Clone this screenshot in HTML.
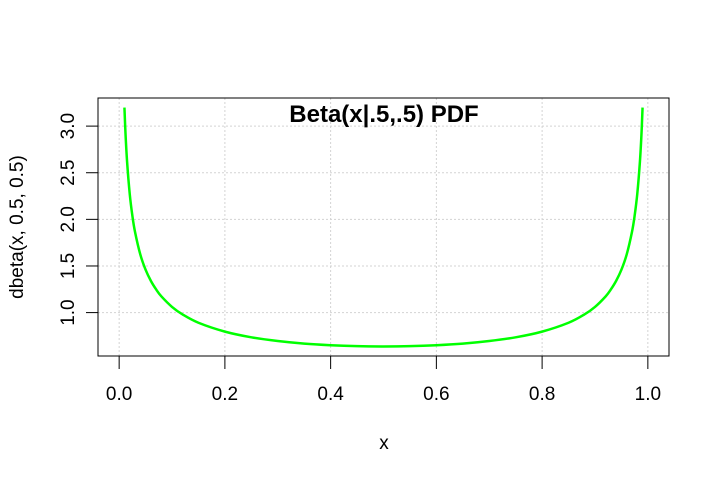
<!DOCTYPE html>
<html><head><meta charset="utf-8"><style>body{margin:0;background:#fff}svg{display:block;font-family:"Liberation Sans",sans-serif}</style></head>
<body>
<svg id="chart" width="720" height="480" viewBox="0 0 720 480"></svg>
<script>
const xValues=[0.01,0.012,0.015,0.02,0.025,0.03,0.04,0.05,0.06,0.07,0.08,0.1,0.12,0.15,0.2,0.25,0.3,0.35,0.4,0.45,0.5,0.55,0.6,0.65,0.7,0.75,0.8,0.85,0.88,0.9,0.92,0.93,0.94,0.95,0.96,0.97,0.975,0.98,0.985,0.988,0.99];
const yValues=[3.199,2.923,2.619,2.274,2.039,1.866,1.624,1.460,1.340,1.248,1.173,1.061,0.980,0.891,0.796,0.735,0.695,0.667,0.650,0.640,0.637,0.640,0.650,0.667,0.695,0.735,0.796,0.891,0.980,1.061,1.173,1.248,1.340,1.460,1.624,1.866,2.039,2.274,2.619,2.923,3.199];
const xDomain=[0,1];
const xTicks=[0,0.2,0.4,0.6,0.8,1.0];
const xTickLabels=["0.0","0.2","0.4","0.6","0.8","1.0"];
const yTicks=[1.0,1.5,2.0,2.5,3.0];
const yTickLabels=["1.0","1.5","2.0","2.5","3.0"];
const NS="http://www.w3.org/2000/svg";
const svg=document.getElementById('chart');
const L=98,R=669,T=98,B=356;
const xr=xDomain[1]-xDomain[0];
const ymin=Math.min(...yValues),ymax=Math.max(...yValues),yr=ymax-ymin;
const x0=xDomain[0]-0.04*xr,x1=xDomain[1]+0.04*xr,y0=ymin-0.04*yr,y1=ymax+0.04*yr;
const sx=v=>L+(v-x0)/(x1-x0)*(R-L);
const sy=v=>B-(v-y0)/(y1-y0)*(B-T);
function mk(tag,attrs,text){const e=document.createElementNS(NS,tag);for(const k in attrs)e.setAttribute(k,attrs[k]);if(text!==undefined)e.textContent=text;svg.appendChild(e);return e;}
xTicks.forEach((t,i)=>{
 const g=mk('line',{x1:sx(t),x2:sx(t),y1:T,y2:B,stroke:'#d3d3d3','stroke-dasharray':'2,2'});
 
 
 const tk=mk('line',{x1:sx(t),x2:sx(t),y1:B,y2:B+13,stroke:'#000'});
 
 
 const lb=mk('text',{x:sx(t),y:400,'text-anchor':'middle','font-size':19},xTickLabels[i]);
 
 
});
yTicks.forEach((t,i)=>{
 const g=mk('line',{x1:L,x2:R,y1:sy(t),y2:sy(t),stroke:'#d3d3d3','stroke-dasharray':'2,2'});
 
 
 const tk=mk('line',{x1:L-12,x2:L,y1:sy(t),y2:sy(t),stroke:'#000'});
 
 
 const lb=mk('text',{x:0,y:0,'text-anchor':'middle','font-size':19,transform:`translate(74,${sy(t)}) rotate(-90)`},yTickLabels[i]);
 
 
});
const box=mk('rect',{x:L,y:T,width:R-L,height:B-T,fill:'none',stroke:'#000'});


const P=xValues.map((v,i)=>[sx(v),sy(yValues[i])]);
let d='M'+P[0][0].toFixed(2)+','+P[0][1].toFixed(2);
for(let i=0;i<P.length-1;i++){
 const p0=P[Math.max(0,i-1)],p1=P[i],p2=P[i+1],p3=P[Math.min(P.length-1,i+2)];
 const c1=[p1[0]+(p2[0]-p0[0])/6,p1[1]+(p2[1]-p0[1])/6];
 const c2=[p2[0]-(p3[0]-p1[0])/6,p2[1]-(p3[1]-p1[1])/6];
 d+=`C${c1[0].toFixed(2)},${c1[1].toFixed(2)} ${c2[0].toFixed(2)},${c2[1].toFixed(2)} ${p2[0].toFixed(2)},${p2[1].toFixed(2)}`;
}
const line=mk('path',{d:d,fill:'none',stroke:'#00ff00','stroke-width':2.5,'stroke-linejoin':'round'});


const title=mk('text',{x:384,y:122,'text-anchor':'middle','font-size':24,'font-weight':'bold'},'Beta(x|.5,.5) PDF');


const xl=mk('text',{x:384,y:449,'text-anchor':'middle','font-size':19},'x');


const yl=mk('text',{x:0,y:0,'text-anchor':'middle','font-size':19,transform:'translate(23,227) rotate(-90)'},'dbeta(x, 0.5, 0.5)');


</script>
</body></html>
